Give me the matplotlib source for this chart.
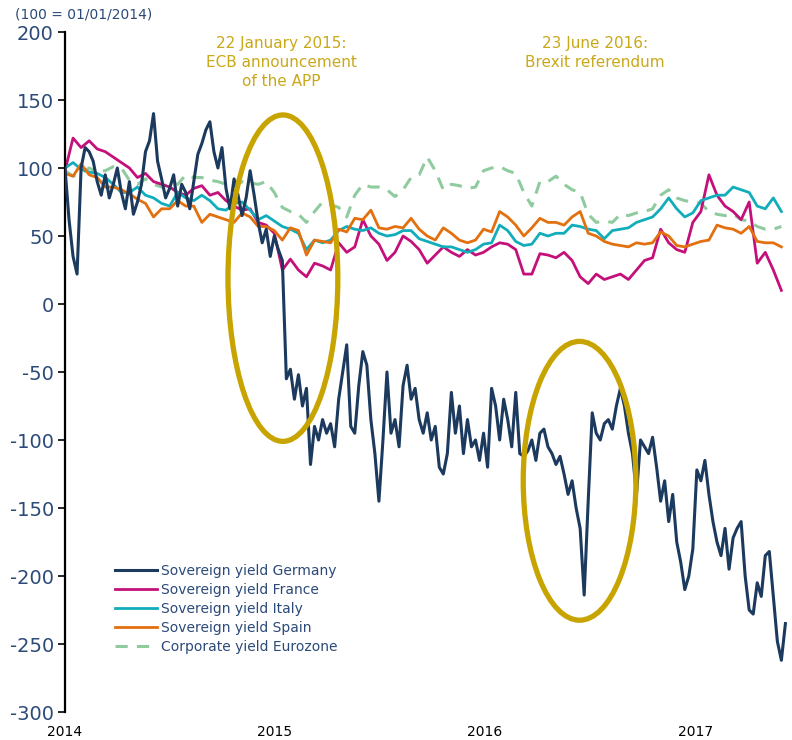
import numpy as np
import pandas as pd
import matplotlib
matplotlib.use('Agg')
import matplotlib.pyplot as plt
import matplotlib.dates as mdates
from matplotlib.patches import Ellipse

plt.rcParams['axes.unicode_minus'] = False

# weekly German index, fortnightly for the others (100 = 01/01/2014)
germany = [100, 62, 35, 22, 100, 115, 112, 105, 90, 80, 95, 78, 88, 100, 82, 70, 90, 66, 75, 88,
           112, 120, 140, 105, 92, 78, 85, 95, 72, 88, 82, 70, 90, 110, 118, 128, 134, 112, 100, 115,
           85, 70, 92, 80, 65, 78, 98, 80, 60, 45, 55, 35, 50, 40, 32, -55, -48, -70, -52, -75,
           -62, -118, -90, -100, -85, -95, -88, -105, -70, -50, -30, -90, -95, -60, -35, -45, -85, -110, -145, -100,
           -50, -95, -85, -105, -60, -45, -70, -62, -85, -95, -80, -100, -90, -120, -125, -110, -65, -95, -75, -110,
           -85, -105, -100, -115, -95, -120, -62, -75, -100, -70, -85, -105, -65, -110, -112, -108, -100, -115, -95, -92,
           -105, -110, -118, -112, -125, -140, -130, -150, -165, -214, -145, -80, -95, -100, -88, -85, -92, -75, -62, -75,
           -95, -110, -140, -100, -105, -110, -98, -120, -145, -130, -160, -140, -175, -190, -210, -200, -180, -122, -130, -115,
           -140, -160, -175, -185, -165, -195, -172, -165, -160, -200, -225, -228, -205, -215, -185, -182, -215, -248, -262, -235]

france = [98, 122, 115, 120, 114, 112, 108, 104, 100, 93, 96, 90, 88, 86, 82, 80, 85, 87, 80, 82,
          76, 72, 69, 70, 60, 58, 52, 25, 33, 25, 20, 30, 28, 25, 45, 38, 42, 62, 50, 44,
          32, 38, 50, 46, 40, 30, 36, 42, 38, 35, 40, 36, 38, 42, 45, 44, 40, 22, 22, 37,
          36, 34, 38, 32, 20, 15, 22, 18, 20, 22, 18, 25, 32, 34, 55, 45, 40, 38, 60, 68,
          95, 80, 72, 68, 62, 75, 30, 38, 25, 10]

italy = [100, 104, 99, 97, 96, 93, 88, 82, 82, 86, 80, 78, 74, 72, 82, 78, 76, 80, 76, 70,
         69, 74, 75, 69, 62, 65, 61, 57, 55, 52, 40, 47, 45, 47, 54, 57, 55, 54, 56, 52,
         50, 51, 54, 54, 48, 46, 44, 42, 42, 40, 38, 40, 44, 45, 58, 54, 46, 43, 44, 52,
         50, 52, 52, 58, 57, 55, 54, 48, 54, 55, 56, 60, 62, 64, 70, 78, 70, 64, 67, 76,
         78, 80, 80, 86, 84, 82, 72, 70, 78, 68]

spain = [96, 94, 103, 95, 93, 86, 86, 84, 81, 77, 74, 64, 70, 70, 76, 72, 72, 60, 66, 64,
         62, 60, 67, 64, 57, 57, 54, 47, 56, 54, 36, 47, 46, 45, 55, 53, 63, 62, 69, 56,
         55, 57, 56, 63, 55, 50, 47, 56, 52, 47, 45, 47, 55, 53, 68, 64, 58, 50, 56, 63,
         60, 60, 58, 64, 68, 52, 50, 46, 44, 43, 42, 45, 44, 45, 53, 50, 43, 42, 44, 46,
         47, 58, 56, 55, 52, 57, 46, 45, 45, 42]

corporate = [98, 94, 96, 100, 97, 98, 101, 100, 91, 88, 92, 88, 86, 89, 88, 95, 93, 93, 91, 90,
             88, 86, 90, 89, 88, 90, 82, 71, 68, 66, 60, 68, 75, 73, 71, 64, 80, 88, 86, 86,
             84, 79, 84, 93, 95, 108, 98, 84, 88, 87, 85, 86, 98, 100, 101, 98, 96, 82, 72, 90,
             90, 94, 88, 84, 82, 66, 60, 61, 60, 66, 65, 67, 68, 70, 80, 84, 78, 76, 75, 74,
             68, 66, 65, 66, 62, 61, 57, 55, 55, 57]

weeks = pd.date_range('2014-01-01', periods=len(germany), freq='7D')
fortnights = pd.date_range('2014-01-01', periods=len(france), freq='14D')

navy = '#1b3a5e'
label_col = '#2b4a78'
gold = '#c8a400'
gold_txt = '#c9a81a'

fig = plt.figure(figsize=(7.92, 7.40), dpi=100)
ax = fig.add_axes([65/792, 1-712/740, 725/792, 680/740])

ax.plot(weeks, germany, color=navy, lw=2.2, label='Sovereign yield Germany', zorder=3)
ax.plot(fortnights, france, color='#c4107a', lw=2.0, label='Sovereign yield France', zorder=2)
ax.plot(fortnights, italy, color='#12adbb', lw=2.0, label='Sovereign yield Italy', zorder=2)
ax.plot(fortnights, spain, color='#e3700e', lw=2.0, label='Sovereign yield Spain', zorder=2)
ax.plot(fortnights, corporate, color='#8fcb9f', lw=2.2, ls=(0, (4, 3)),
        label='Corporate yield Eurozone', zorder=1)

# circles round the two events
e1 = Ellipse((mdates.date2num(pd.Timestamp('2015-01-15')), 19), 191, 240,
             fill=False, ec=gold, lw=3.8, zorder=4)
e2 = Ellipse((mdates.date2num(pd.Timestamp('2016-06-14')), -130), 196, 205,
             fill=False, ec=gold, lw=3.8, zorder=4)
ax.add_patch(e1)
ax.add_patch(e2)

ax.set_xlim(pd.Timestamp('2014-01-01'), pd.Timestamp('2017-06-15'))
ax.set_ylim(-300, 200)
ax.set_yticks(np.arange(-300, 201, 50))
ax.set_xticks(pd.to_datetime(['2014-01-01', '2015-01-01', '2016-01-01', '2017-01-01']))
ax.xaxis.set_major_formatter(mdates.DateFormatter('%Y'))

for s in ['top', 'right', 'bottom']:
    ax.spines[s].set_visible(False)
ax.spines['left'].set_linewidth(1.6)
ax.tick_params(axis='y', labelsize=14, labelcolor=label_col, length=5, width=1.2, pad=3)
ax.tick_params(axis='x', labelsize=10, labelcolor='black', length=0, pad=9)

fig.text(15/792, 1-15/740, '(100 = 01/01/2014)', fontsize=10, color=label_col,
         ha='left', va='center')
fig.text(281/792, 1-36/740, '22 January 2015:\nECB announcement\nof the APP', fontsize=11,
         color=gold_txt, ha='center', va='top', linespacing=1.35)
fig.text(595/792, 1-36/740, '23 June 2016:\nBrexit referendum', fontsize=11,
         color=gold_txt, ha='center', va='top', linespacing=1.35)

leg = ax.legend(loc='upper left', bbox_to_anchor=(50/725, 1-(564-32)/680), frameon=False,
                fontsize=10, handlelength=3.0, handletextpad=0.3, labelspacing=0.36,
                borderaxespad=0, borderpad=0)
for t in leg.get_texts():
    t.set_color(label_col)

fig.savefig('out.png', dpi=100)
